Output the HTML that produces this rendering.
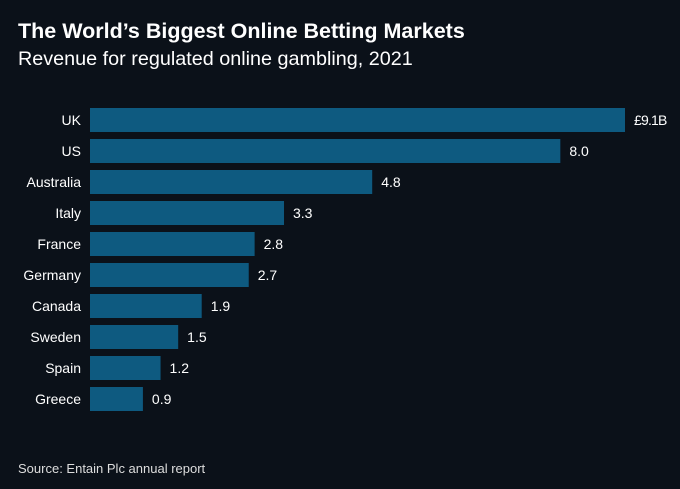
<!DOCTYPE html>
<html><head><meta charset="utf-8"><style>
body{margin:0;background:#0b1119;}
#c{position:relative;width:680px;height:489px;background:#0b1119;font-family:"Liberation Sans",sans-serif;color:#fff;overflow:hidden}
h1{position:absolute;left:18px;top:19px;margin:0;font-size:21.5px;font-weight:bold;letter-spacing:0px;white-space:nowrap}
h2{position:absolute;left:18px;top:48px;margin:0;font-size:19.8px;font-weight:normal;white-space:nowrap}
.src{position:absolute;left:18px;top:461px;font-size:13px;color:#ddd}
</style></head><body>
<div id="c">
<h1>The World’s Biggest Online Betting Markets</h1>
<h2>Revenue for regulated online gambling, 2021</h2>
<svg id="s" width="680" height="489" style="position:absolute;left:0;top:0"></svg>
<div class="src">Source: Entain Plc annual report</div>
</div>
<script>
const categories=["UK","US","Australia","Italy","France","Germany","Canada","Sweden","Spain","Greece"];
const values=[9.1,8.0,4.8,3.3,2.8,2.7,1.9,1.5,1.2,0.9];
const valueLabels=["£9.1B","8.0","4.8","3.3","2.8","2.7","1.9","1.5","1.2","0.9"];
const x0=90,scale=(625-90)/9.1,top0=108,pitch=31,bh=24;
const xs=v=>x0+v*scale, ys=i=>top0+i*pitch;
const svg=document.getElementById('s'),NS="http://www.w3.org/2000/svg";
categories.forEach((c,i)=>{
 const r=document.createElementNS(NS,'rect');
 r.setAttribute('x',x0);r.setAttribute('y',ys(i));r.setAttribute('width',xs(values[i])-x0);r.setAttribute('height',bh);r.setAttribute('fill','#0e5a80');
 
 
 svg.appendChild(r);
 const t=document.createElementNS(NS,'text');
 t.setAttribute('x',81);t.setAttribute('y',ys(i)+bh/2+5);t.setAttribute('text-anchor','end');t.setAttribute('fill','#fff');t.setAttribute('font-size','14');t.setAttribute('font-family','Liberation Sans, sans-serif');t.textContent=c;
 
 
 svg.appendChild(t);
 const v=document.createElementNS(NS,'text');
 v.setAttribute('x',xs(values[i])+9);v.setAttribute('y',ys(i)+bh/2+5);v.setAttribute('fill','#fff');v.setAttribute('font-size','14');v.setAttribute('font-family','Liberation Sans, sans-serif');v.textContent=valueLabels[i];
 if(i===0){v.setAttribute('letter-spacing','-0.8');}
 
 
 svg.appendChild(v);
});
</script>
</body></html>
